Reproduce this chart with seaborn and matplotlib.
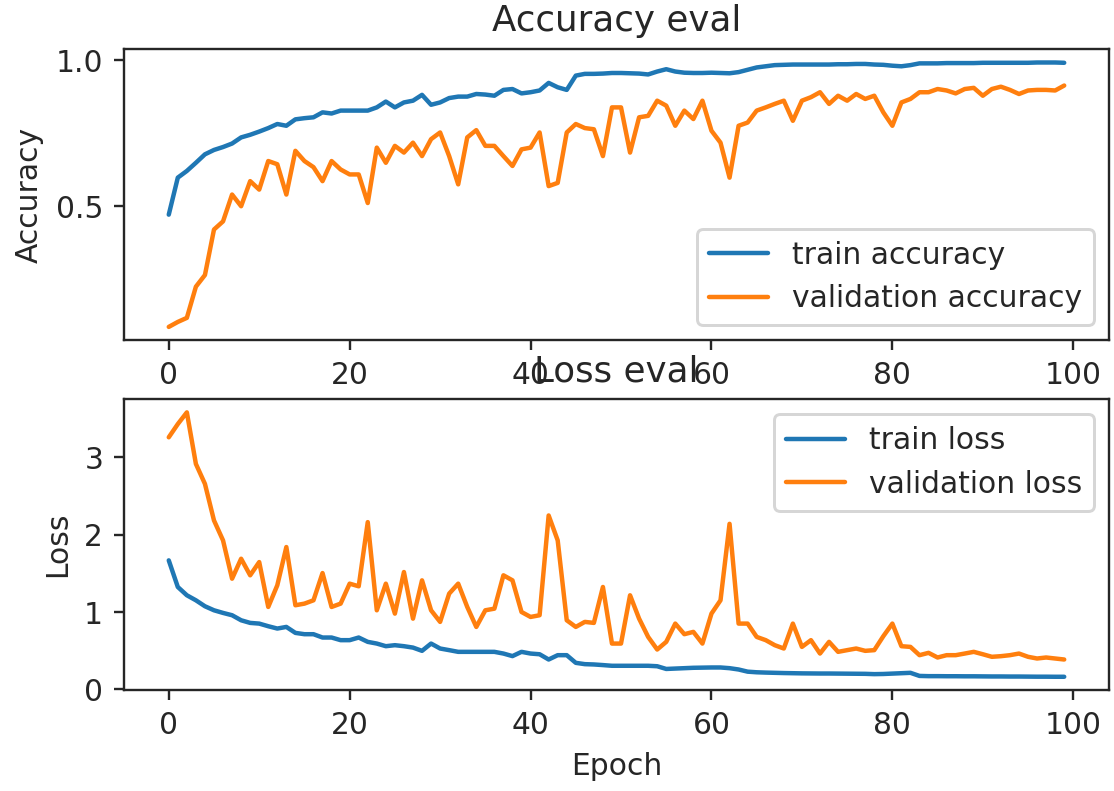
import matplotlib
matplotlib.use("Agg")
import matplotlib.pyplot as plt
import seaborn as sns
import numpy as np

# values, one per epoch
epochs = np.arange(100)

train_acc = [
    0.471, 0.598, 0.621, 0.649, 0.678, 0.693, 0.703, 0.715, 0.736, 0.745,
    0.756, 0.768, 0.782, 0.776, 0.798, 0.802, 0.805, 0.822, 0.818, 0.828,
    0.828, 0.828, 0.828, 0.839, 0.859, 0.839, 0.856, 0.862, 0.882, 0.848,
    0.856, 0.871, 0.876, 0.876, 0.885, 0.883, 0.879, 0.899, 0.902, 0.887,
    0.891, 0.897, 0.923, 0.908, 0.899, 0.948, 0.954, 0.954, 0.955, 0.957,
    0.957, 0.956, 0.955, 0.952, 0.962, 0.970, 0.962, 0.958, 0.957, 0.957,
    0.958, 0.957, 0.956, 0.960, 0.968, 0.976, 0.980, 0.984, 0.985, 0.986,
    0.986, 0.986, 0.986, 0.986, 0.987, 0.987, 0.988, 0.988, 0.986, 0.985,
    0.982, 0.980, 0.984, 0.990, 0.990, 0.990, 0.991, 0.991, 0.991, 0.991,
    0.992, 0.992, 0.992, 0.992, 0.992, 0.992, 0.993, 0.993, 0.993, 0.992,
]

val_acc = [
    0.086, 0.103, 0.117, 0.224, 0.264, 0.420, 0.448, 0.540, 0.500, 0.586,
    0.557, 0.655, 0.644, 0.540, 0.690, 0.655, 0.634, 0.586, 0.655, 0.626,
    0.609, 0.609, 0.511, 0.701, 0.649, 0.707, 0.684, 0.718, 0.672, 0.730,
    0.753, 0.672, 0.575, 0.736, 0.761, 0.707, 0.707, 0.672, 0.638, 0.695,
    0.701, 0.753, 0.569, 0.580, 0.753, 0.782, 0.768, 0.764, 0.672, 0.839,
    0.839, 0.684, 0.805, 0.810, 0.862, 0.845, 0.776, 0.828, 0.799, 0.862,
    0.759, 0.718, 0.598, 0.776, 0.787, 0.828, 0.839, 0.851, 0.862, 0.793,
    0.862, 0.874, 0.891, 0.851, 0.879, 0.862, 0.885, 0.868, 0.879, 0.822,
    0.776, 0.856, 0.868, 0.891, 0.891, 0.902, 0.897, 0.887, 0.902, 0.906,
    0.879, 0.902, 0.910, 0.899, 0.885, 0.897, 0.899, 0.899, 0.897, 0.914,
]

train_loss = [
    1.668, 1.324, 1.217, 1.152, 1.075, 1.023, 0.989, 0.959, 0.894, 0.860,
    0.851, 0.817, 0.787, 0.808, 0.731, 0.714, 0.714, 0.671, 0.671, 0.637,
    0.637, 0.671, 0.615, 0.593, 0.559, 0.572, 0.559, 0.541, 0.499, 0.593,
    0.529, 0.508, 0.486, 0.486, 0.486, 0.486, 0.486, 0.464, 0.431, 0.486,
    0.464, 0.455, 0.387, 0.443, 0.443, 0.344, 0.327, 0.323, 0.315, 0.306,
    0.306, 0.306, 0.306, 0.306, 0.300, 0.265, 0.270, 0.275, 0.280, 0.282,
    0.284, 0.284, 0.275, 0.258, 0.230, 0.222, 0.218, 0.215, 0.212, 0.210,
    0.208, 0.207, 0.206, 0.206, 0.205, 0.204, 0.203, 0.202, 0.198, 0.200,
    0.205, 0.210, 0.215, 0.175, 0.172, 0.172, 0.171, 0.171, 0.170, 0.170,
    0.169, 0.168, 0.168, 0.167, 0.167, 0.166, 0.165, 0.165, 0.164, 0.164,
]

val_loss = [
    3.258, 3.429, 3.580, 2.914, 2.656, 2.184, 1.926, 1.431, 1.689, 1.475,
    1.646, 1.066, 1.346, 1.840, 1.088, 1.109, 1.152, 1.504, 1.066, 1.109,
    1.367, 1.333, 2.162, 1.023, 1.367, 0.980, 1.517, 0.915, 1.410, 1.023,
    0.873, 1.238, 1.367, 1.066, 0.808, 1.023, 1.044, 1.475, 1.410, 1.001,
    0.937, 0.959, 2.248, 1.926, 0.894, 0.808, 0.873, 0.860, 1.324, 0.593,
    0.593, 1.217, 0.915, 0.679, 0.516, 0.615, 0.851, 0.714, 0.744, 0.593,
    0.980, 1.152, 2.140, 0.851, 0.851, 0.679, 0.637, 0.572, 0.529, 0.851,
    0.550, 0.637, 0.464, 0.615, 0.486, 0.508, 0.529, 0.499, 0.508, 0.688,
    0.851, 0.559, 0.550, 0.443, 0.473, 0.413, 0.443, 0.443, 0.464, 0.486,
    0.455, 0.422, 0.430, 0.443, 0.464, 0.422, 0.400, 0.413, 0.400, 0.387,
]

sns.set_style("ticks")
plt.rcParams['font.family'] = ['DejaVu Sans']

fig, (ax1, ax2) = plt.subplots(2, 1, figsize=(1114 / 214, 791 / 214), dpi=214)
fig.subplots_adjust(left=0.1113, right=0.9955, top=0.9377, bottom=0.1277, hspace=0.203)

# accuracy
sns.lineplot(x=epochs, y=train_acc, label='train accuracy', color='#1f77b4', ax=ax1)
sns.lineplot(x=epochs, y=val_acc, label='validation accuracy', color='#ff7f0e', ax=ax1)
ax1.set_title('Accuracy eval')
ax1.set_ylabel('Accuracy')
ax1.set_yticks([0.5, 1.0])
ax1.set_xticks([0, 20, 40, 60, 80, 100])
ax1.legend(loc='lower right')

# loss
sns.lineplot(x=epochs, y=train_loss, label='train loss', color='#1f77b4', ax=ax2)
sns.lineplot(x=epochs, y=val_loss, label='validation loss', color='#ff7f0e', ax=ax2)
ax2.set_title('Loss eval')
ax2.set_ylabel('Loss')
ax2.set_xlabel('Epoch')
ax2.set_yticks([0, 1, 2, 3])
ax2.set_xticks([0, 20, 40, 60, 80, 100])
ax2.legend(loc='upper right')

for ax in (ax1, ax2):
    for s in ax.spines.values():
        s.set_visible(True)

fig.savefig('out.png', dpi=214)
